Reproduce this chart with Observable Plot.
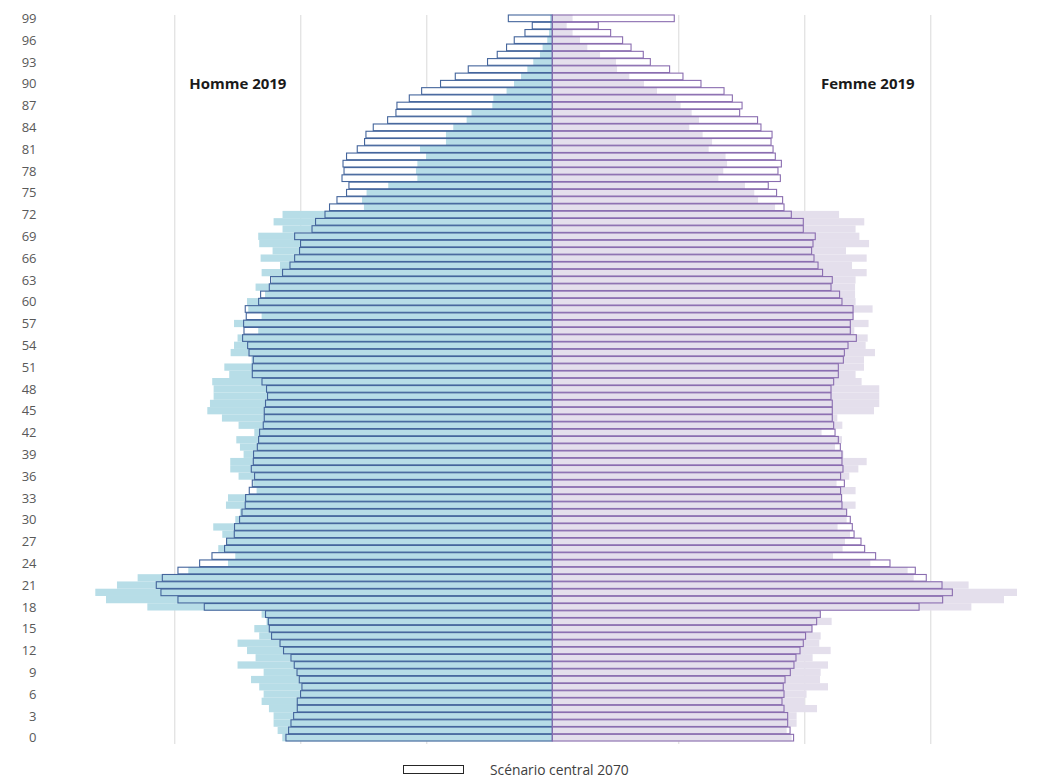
<!DOCTYPE html>
<html>
<head>
<meta charset="utf-8">
<script src="https://cdn.jsdelivr.net/npm/d3@7"></script>
<script src="https://cdn.jsdelivr.net/npm/@observablehq/plot@0.6"></script>
<style>
  html, body { margin: 0; padding: 0; background: #ffffff; }
  #wrap { position: relative; width: 1046px; height: 778px; overflow: hidden; font-family: "Open Sans", "Liberation Sans", sans-serif; }
  #legend { position: absolute; left: 403px; top: 760px; display: flex; align-items: center; font-size: 13.8px; color: #404040; }
  #legend .sw { width: 59px; height: 7px; border: 1px solid #262626; background: #fff; margin-right: 26px; }
</style>
</head>
<body>
<div id="wrap">
  <div id="chart"></div>
  <div id="legend"><span class="sw"></span><span id="legendText"></span></div>
</div>
<script>
// Ages (categories) 0..99
const ages = d3.range(0, 100);
const ageTicks = d3.range(0, 100, 3);

// Men 2019 (filled, left)
const men2019 = [
  2143,2180,2212,2212,2249,2307,2291,2326,2391,2291,
  2498,2355,2423,2498,2326,2365,2268,2307,3214,3542,
  3627,3455,3291,2889,2574,2516,2651,2585,2619,2691,
  2516,2479,2590,2574,2347,2373,2490,2556,2556,2450,
  2479,2508,2365,2490,2622,2738,2717,2688,2688,2699,
  2564,2603,2387,2553,2526,2498,2334,2526,2307,2413,
  2423,2280,2355,2228,2307,2161,2315,2220,2326,2334,
  2141,2212,2141,1495,1510,1474,1302,1071,1082,1071,
  1002,1050,844,844,786,680,641,476,468,363,
  304,248,198,151,98,77,40,26,18,18
];
// Men 2070, central scenario (outlined, left)
const men2070 = [
  2114,2093,2074,2053,2024,2024,1998,1987,2008,2026,
  2048,2074,2133,2161,2228,2246,2254,2276,2762,2971,
  3106,3143,3095,2971,2799,2701,2601,2585,2524,2522,
  2482,2463,2437,2434,2405,2381,2363,2389,2373,2371,
  2341,2331,2323,2294,2286,2286,2276,2260,2268,2304,
  2381,2381,2373,2407,2418,2458,2447,2450,2429,2437,
  2331,2315,2246,2236,2141,2082,2045,2006,1998,2045,
  1907,1879,1804,1768,1709,1633,1614,1669,1653,1661,
  1633,1548,1490,1479,1421,1307,1241,1233,1135,1037,
  887,770,667,514,437,363,302,217,159,349
];
// Women 2019 (filled, right)
const women2019 = [
  1899,1860,1939,1939,2101,2003,2018,2188,2125,2130,
  2188,2066,2209,2119,2130,2061,2217,2127,3326,3585,
  3688,3304,2868,2820,2524,2228,2304,2323,2363,2264,
  2336,2336,2407,2296,2407,2256,2357,2429,2495,2310,
  2244,2299,2137,2302,2262,2553,2595,2595,2595,2455,
  2407,2474,2474,2561,2487,2503,2397,2510,2387,2542,
  2407,2403,2403,2407,2495,2379,2495,2331,2514,2437,
  2407,2476,2276,1768,1633,1603,1529,1318,1357,1387,
  1375,1241,1268,1193,1087,1164,1106,1018,982,831,
  728,611,514,506,379,278,220,161,114,161
];
// Women 2070, central scenario (outlined, right)
const women2070 = [
  1915,1887,1868,1868,1839,1823,1839,1833,1847,1889,
  1918,1934,1966,1992,2010,2061,2098,2127,2911,3098,
  3175,3093,2968,2881,2680,2566,2479,2450,2395,2381,
  2365,2336,2299,2296,2288,2318,2288,2307,2299,2299,
  2286,2270,2244,2233,2222,2222,2222,2212,2212,2233,
  2270,2270,2310,2318,2347,2413,2365,2365,2387,2387,
  2299,2280,2212,2222,2145,2109,2077,2058,2069,2087,
  1992,1992,1897,1839,1828,1780,1714,1810,1791,1818,
  1770,1752,1736,1744,1656,1629,1487,1506,1429,1363,
  1180,1037,931,778,722,625,558,463,365,968
];

const gridValues = [-3000, -2000, -1000, 1000, 2000, 3000];
const sideLabels = ["Homme 2019", "Femme 2019"];
const sideLabelX = [-2500, 2500];
const sideLabelAge = 90;
const legendLabel = "Scénario central 2070";

const rows = ages.map((a, i) => ({
  age: a,
  m19: -men2019[i], m70: -men2070[i],
  f19: women2019[i], f70: women2070[i]
}));
const labelRows = sideLabels.map((t, i) => ({text: t, x: sideLabelX[i], age: sideLabelAge}));

const colors = {
  menFill: "#b7dde7", womenFill: "#e4dfec",
  menStroke: "#44659c", womenStroke: "#8a6db0"
};

const chart = Plot.plot({
  width: 1046,
  height: 752,
  marginLeft: 48,
  marginRight: 0,
  marginTop: 15,
  marginBottom: 8,
  style: {background: "#ffffff", fontFamily: "'Open Sans', 'Liberation Sans', sans-serif"},
  x: {domain: [-4000, 4000], range: [48.3, 1056.3], axis: null},
  y: {domain: d3.range(99, -1, -1), range: [14.7, 741.3], padding: 0, round: false, axis: null, label: null},
  marks: [
    Plot.ruleX(gridValues, {stroke: "#d9d9d9", strokeWidth: 1}),
    // 2070 white bodies
    Plot.barX(rows, {x1: 0, x2: "m70", y: "age", fill: "#ffffff"}),
    Plot.barX(rows, {x1: 0, x2: "f70", y: "age", fill: "#ffffff"}),
    // 2019 filled bars
    Plot.barX(rows, {x1: 0, x2: "m19", y: "age", fill: colors.menFill}),
    Plot.barX(rows, {x1: 0, x2: "f19", y: "age", fill: colors.womenFill}),
    // 2070 outlines on top
    Plot.barX(rows, {x1: 0, x2: "m70", y: "age", fill: "none", stroke: colors.menStroke, strokeWidth: 1.1, insetTop: 0.3, insetBottom: 0.3}),
    Plot.barX(rows, {x1: 0, x2: "f70", y: "age", fill: "none", stroke: colors.womenStroke, strokeWidth: 1.1, insetTop: 0.3, insetBottom: 0.3}),
    Plot.axisY(ageTicks, {tickSize: 0, tickPadding: 12, fontSize: 13, color: "#595959", label: null}),
    Plot.text(labelRows, {x: "x", y: "age", text: "text", fontWeight: "bold", fontSize: 15, fill: "#1a1a1a"})
  ]
});
document.getElementById("chart").appendChild(chart);
document.getElementById("legendText").textContent = legendLabel;
</script>
</body>
</html>
